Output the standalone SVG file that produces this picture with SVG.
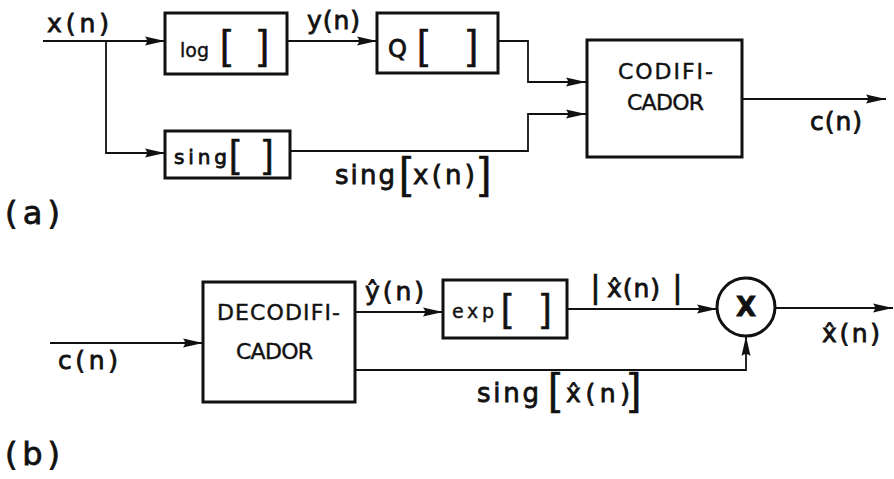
<svg xmlns="http://www.w3.org/2000/svg" width="894" height="479" viewBox="0 0 894 479">
<defs>
<marker id="arr" markerUnits="userSpaceOnUse" markerWidth="22" markerHeight="12" refX="20" refY="6" orient="auto">
<path d="M0,1.5 L20,6 L0,10.5 Q4,6 0,1.5 Z" fill="#111"/>
</marker>
<style>
.box{fill:#fff;stroke:#111;stroke-width:3}
.ln{fill:none;stroke:#111;stroke-width:1.8}
.t{font-family:"DejaVu Sans","Liberation Sans",sans-serif;fill:#111;stroke:#111;stroke-width:0.8}
.s{font-family:"DejaVu Sans","Liberation Sans",sans-serif;fill:#111;stroke:#111;stroke-width:0.4}
.br{font-family:"Liberation Sans","DejaVu Sans",sans-serif;fill:#111;stroke:#111;stroke-width:0.5}
</style>
</defs>
<rect width="894" height="479" fill="#fff"/>

<g id="connectors">
<path class="ln" d="M43,41 H165" marker-end="url(#arr)"/>
<path class="ln" d="M106,41 V153 H165" marker-end="url(#arr)"/>
<path class="ln" d="M287,41 H377" marker-end="url(#arr)"/>
<path class="ln" d="M498,41 H528 V82 H586" marker-end="url(#arr)"/>
<path class="ln" d="M290,151 H528 V114 H586" marker-end="url(#arr)"/>
<path class="ln" d="M742,99 H886" marker-end="url(#arr)"/>
<path class="ln" d="M50,343 H203" marker-end="url(#arr)"/>
<path class="ln" d="M355,312 H443" marker-end="url(#arr)"/>
<path class="ln" d="M567,309 H717" marker-end="url(#arr)"/>
<path class="ln" d="M775,308 H893" marker-end="url(#arr)"/>
<path class="ln" d="M355,370 H746 V336" marker-end="url(#arr)"/>
</g>

<g id="labels">
<text class="t" x="47" y="32" font-size="25" textLength="62">x(n)</text>
<text class="t" x="307" y="29" font-size="25" textLength="53">y(n)</text>
<text class="t" x="810" y="130" font-size="25" textLength="52">c(n)</text>
<text class="t" x="335" y="184" font-size="26" textLength="60">sing</text>
<text class="br" x="399" y="188" font-size="44">[</text>
<text class="t" x="413" y="184" font-size="26" textLength="62">x(n)</text>
<text class="br" x="479" y="188" font-size="44">]</text>
<text class="t" x="5" y="224" font-size="32" textLength="55">(a)</text>
<text class="t" x="58" y="369" font-size="25" textLength="60">c(n)</text>
<text class="t" x="365" y="300" font-size="25" textLength="59">ŷ(n)</text>
<text class="br" x="591" y="298" font-size="34">|</text>
<text class="t" x="607" y="297" font-size="25" textLength="53">x̂(n)</text>
<text class="br" x="673" y="298" font-size="34">|</text>
<text class="t" x="822" y="342" font-size="25" textLength="58">x̂(n)</text>
<text class="t" x="477" y="402" font-size="26" textLength="62">sing</text>
<text class="br" x="548" y="404" font-size="44">[</text>
<text class="t" x="566" y="402" font-size="25" textLength="64">x̂(n)</text>
<text class="br" x="629" y="404" font-size="44">]</text>
<text class="t" x="5" y="465" font-size="32" textLength="55">(b)</text>
</g>

<g id="log">
<rect class="box" x="165" y="13" width="122" height="61"/>
<text class="s" x="180" y="57" font-size="19">log</text>
<text class="br" x="220" y="59" font-size="40">[</text>
<text class="br" x="258" y="59" font-size="40">]</text>
</g>

<g id="Q">
<rect class="box" x="377" y="13" width="121" height="60"/>
<text class="t" x="388" y="57" font-size="24">Q</text>
<text class="br" x="417" y="59" font-size="40">[</text>
<text class="br" x="467" y="59" font-size="40">]</text>
</g>

<g id="sing">
<rect class="box" x="165" y="131" width="125" height="47"/>
<text class="t" x="174" y="164" font-size="20" textLength="53">sing</text>
<text class="br" x="229" y="167" font-size="38">[</text>
<text class="br" x="263" y="167" font-size="38">]</text>
</g>

<g id="codificador">
<rect class="box" x="587" y="40" width="155" height="117"/>
<text class="s" x="618" y="79" font-size="22" textLength="95">CODIFI-</text>
<text class="s" x="627" y="110" font-size="22" textLength="77">CADOR</text>
</g>

<g id="decodificador">
<rect class="box" x="203" y="282" width="152" height="120"/>
<text class="s" x="217" y="320" font-size="22" textLength="123">DECODIFI-</text>
<text class="s" x="236" y="359" font-size="22" textLength="77">CADOR</text>
</g>

<g id="exp">
<rect class="box" x="443" y="280" width="124" height="58"/>
<text class="s" x="452" y="318" font-size="19" textLength="42">exp</text>
<text class="br" x="501" y="321" font-size="38">[</text>
<text class="br" x="541" y="321" font-size="38">]</text>
</g>

<g id="mult">
<circle cx="746" cy="307" r="29" fill="#fff" stroke="#111" stroke-width="3"/>
<text class="t" x="746" y="316" font-size="26" text-anchor="middle" font-weight="bold">X</text>
</g>
</svg>
